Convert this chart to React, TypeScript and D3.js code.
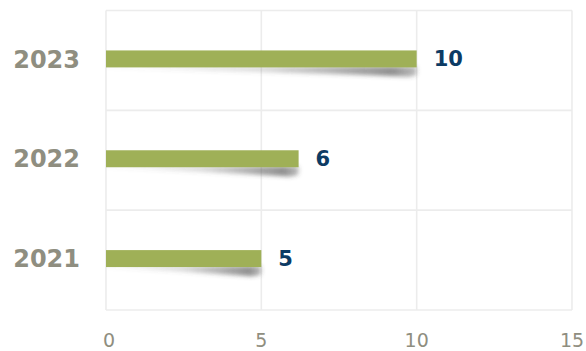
import React from "react";
import * as d3 from "d3";

const categories = ["2023", "2022", "2021"];
const values = [10, 6.2, 5];
const valueLabels = ["10", "6", "5"];
const xTicks = [0, 5, 10, 15];

const W = 586;
const H = 351;
const M = { left: 106, right: 14, top: 10.5, bottom: 41 };

export default function App() {
  const x = d3.scaleLinear().domain([0, 15]).range([M.left, W - M.right]);
  const y = d3
    .scaleBand<string>()
    .domain(categories)
    .range([M.top, H - M.bottom])
    .paddingInner(0.83)
    .paddingOuter(0.415);
  const grid = "#ececec";
  const barColor = "#9fb057";
  return (
    <svg
      width={W}
      height={H}
      style={{ position: "fixed", left: 0, top: 0, background: "#fff" }}
    >
      <defs>
        <linearGradient id="shg" x1="0" x2="1" y1="0" y2="0">
          <stop offset="0" stopColor="#666" stopOpacity={0.05} />
          <stop offset="0.5" stopColor="#555" stopOpacity={0.22} />
          <stop offset="0.92" stopColor="#444" stopOpacity={0.6} />
          <stop offset="1" stopColor="#444" stopOpacity={0.35} />
        </linearGradient>
        <filter id="blur" x="-10%" y="-100%" width="120%" height="300%">
          <feGaussianBlur stdDeviation="2.2" />
        </filter>
      </defs>
      {[M.top, ...categories.slice(1).map((c) => (y(c) as number) - y.step() * y.paddingInner() / 2), H - M.bottom].map((yy, i) => (
        <line key={"h" + i} x1={x(0)} x2={x(15)} y1={yy} y2={yy} stroke={grid} strokeWidth={1.6} />
      ))}
      {xTicks.map((t) => (
        <line key={"v" + t} x1={x(t)} x2={x(t)} y1={M.top} y2={H - M.bottom} stroke={grid} strokeWidth={1.6} />
      ))}
      {categories.map((c, i) => {
        const y0 = (y(c) as number) - 1.5;
        const bh = y.bandwidth();
        const x0 = x(0);
        const x1 = x(values[i]);
        const yb = y0 + bh;
        const sh = `M${x0},${yb - 1} L${x1},${yb - 1} L${x1},${yb + 7} Q${x1 - 4},${yb + 10} ${x1 - 14},${yb + 9} Q${x0 + (x1 - x0) * 0.45},${yb + 4} ${x0},${yb} Z`;
        return (
          <g key={c}>
            <path d={sh} fill="url(#shg)" filter="url(#blur)" />
            <rect x={x0} y={y0} width={x1 - x0} height={bh} fill={barColor} />
            <text
              x={80}
              y={y0 + bh / 2}
              dy="0.36em"
              textAnchor="end"
              fontFamily="DejaVu Sans"
              fontWeight="bold"
              fontSize={24}
              fill="#8f8e80"
            >
              {c}
            </text>
            <text
              x={x1 + 17}
              y={y0 + bh / 2}
              dy="0.36em"
              fontFamily="DejaVu Sans"
              fontWeight="bold"
              fontSize={21}
              fill="#0c3b64"
            >
              {valueLabels[i]}
            </text>
          </g>
        );
      })}
      {xTicks.map((t) => (
        <text
          key={"t" + t}
          x={x(t) + (t === 0 ? 3 : 0)}
          y={340}
          dy="0.36em"
          textAnchor="middle"
          fontFamily="DejaVu Sans"
          fontSize={19}
          fill="#8f8e80"
        >
          {t}
        </text>
      ))}
    </svg>
  );
}
